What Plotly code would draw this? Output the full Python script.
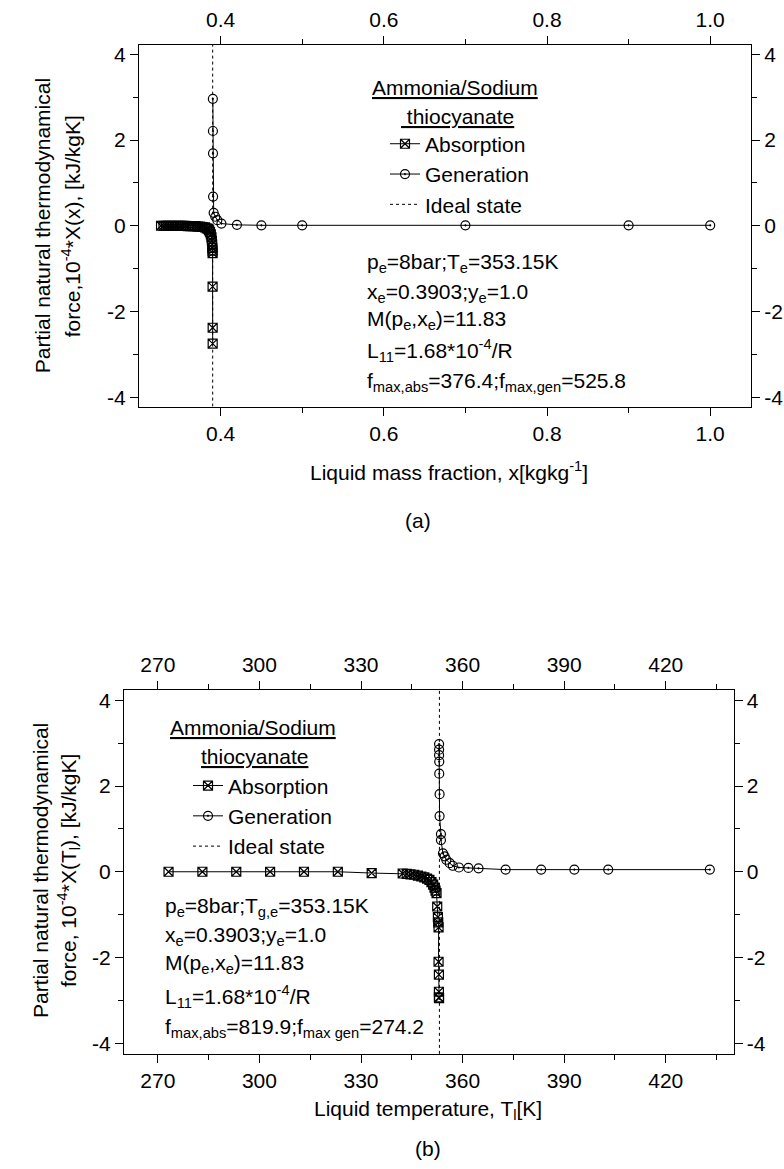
import plotly.graph_objects as go

# ---------------- data: panel (a) ----------------
abs_a_x = [0.327, 0.330, 0.333, 0.336, 0.339, 0.342, 0.345, 0.348, 0.351, 0.354,
           0.357, 0.360, 0.363, 0.366, 0.369, 0.372, 0.375, 0.378, 0.381, 0.383,
           0.385, 0.386, 0.387, 0.388, 0.3888, 0.3893, 0.3897, 0.3899, 0.3901, 0.3902,
           0.3902, 0.3903, 0.3903]
abs_a_y = [0.0, 0.0, 0.0, 0.0, 0.0, 0.0, 0.0, 0.0, 0.0, 0.0,
           0.0, -0.01, -0.01, -0.01, -0.01, -0.02, -0.02, -0.03, -0.04, -0.06,
           -0.08, -0.11, -0.15, -0.20, -0.27, -0.35, -0.44, -0.52, -0.58, -0.64,
           -1.42, -2.38, -2.75]
gen_a_x = [0.3905, 0.3906, 0.3907, 0.3908, 0.3915, 0.3935, 0.3960, 0.4010, 0.420,
           0.450, 0.500, 0.700, 0.900, 1.000]
gen_a_y = [2.96, 2.21, 1.69, 0.68, 0.30, 0.21, 0.13, 0.05, 0.02,
           0.01, 0.01, 0.01, 0.01, 0.01]
ideal_a_x = 0.3903

# ---------------- data: panel (b) ----------------
abs_b_t = [273.15, 283.15, 293.15, 303.15, 313.15, 323.15, 333.15, 342.3, 343.5, 344.6,
           345.7, 346.8, 347.8, 348.7, 349.5, 350.2, 350.8, 351.3, 351.7, 352.0,
           352.3, 352.5, 352.7, 352.8, 352.9, 352.9, 353.0, 353.0, 353.0, 353.05]
abs_b_y = [0.0, 0.0, 0.0, 0.0, 0.0, 0.0, -0.03, -0.04, -0.05, -0.06,
           -0.07, -0.09, -0.11, -0.13, -0.16, -0.19, -0.24, -0.30, -0.37, -0.44,
           -0.50, -0.81, -1.06, -1.18, -1.30, -2.10, -2.40, -2.80, -2.93, -2.95]
gen_b_t = [353.05, 353.05, 353.05, 353.1, 353.1, 353.2, 353.2, 353.6, 353.6, 354.2,
           354.7, 355.2, 356.2, 357.1, 358.9, 361.7, 364.7, 372.7, 383.2, 393.0,
           403.0, 433.0]
gen_b_y = [2.98, 2.85, 2.72, 2.57, 2.29, 1.81, 1.30, 0.88, 0.74, 0.43,
           0.36, 0.28, 0.20, 0.14, 0.10, 0.09, 0.08, 0.05, 0.05, 0.05,
           0.05, 0.05]
ideal_b_t = 353.15

# ---------------- ticks ----------------
x_a_tickvals = [0.4, 0.6, 0.8, 1.0]
x_a_ticktext = ["0.4", "0.6", "0.8", "1.0"]
x_a_minor = [0.5, 0.7, 0.9]
x_b_tickvals = [270, 300, 330, 360, 390, 420]
x_b_ticktext = ["270", "300", "330", "360", "390", "420"]
x_b_minor = [285, 315, 345, 375, 405, 435]
y_tickvals = [-4, -2, 0, 2, 4]
y_ticktext = ["-4", "-2", "0", "2", "4"]
y_minor = [-3, -1, 1, 3]

X_A_RANGE = [0.3, 1.05]
Y_A_RANGE = [-4.22, 4.22]
X_B_RANGE = [260, 440]
Y_B_RANGE = [-4.25, 4.25]

W, H = 784, 1169
FONT = "Liberation Sans, Arial, sans-serif"
FS = 21


def px(v):
    return v / W


def py(v):
    return 1 - v / H


LINE = dict(color="black", width=1)
ABS_MARKER = dict(symbol="square-x-open", size=9, color="black", line=dict(width=1.2, color="black"))
GEN_MARKER = dict(symbol="circle-open-dot", size=9, color="black", line=dict(width=1.2, color="black"))

fig = go.Figure()

# panel (a)
fig.add_trace(go.Scatter(x=abs_a_x, y=abs_a_y, mode="lines+markers", name="Absorption",
                         line=LINE, marker=ABS_MARKER, xaxis="x", yaxis="y", legend="legend"))
fig.add_trace(go.Scatter(x=gen_a_x, y=gen_a_y, mode="lines+markers", name="Generation",
                         line=LINE, marker=GEN_MARKER, xaxis="x", yaxis="y", legend="legend"))
fig.add_trace(go.Scatter(x=[ideal_a_x, ideal_a_x], y=Y_A_RANGE, mode="lines", name="Ideal state",
                         line=dict(color="black", width=1, dash="dot"), xaxis="x", yaxis="y",
                         legend="legend"))
fig.add_trace(go.Scatter(x=[None], y=[None], mode="markers", showlegend=False, hoverinfo="skip",
                         xaxis="x2", yaxis="y2"))

# panel (b)
fig.add_trace(go.Scatter(x=abs_b_t, y=abs_b_y, mode="lines+markers", name="Absorption",
                         line=LINE, marker=ABS_MARKER, xaxis="x3", yaxis="y3", legend="legend2"))
fig.add_trace(go.Scatter(x=gen_b_t, y=gen_b_y, mode="lines+markers", name="Generation",
                         line=LINE, marker=GEN_MARKER, xaxis="x3", yaxis="y3", legend="legend2"))
fig.add_trace(go.Scatter(x=[ideal_b_t, ideal_b_t], y=Y_B_RANGE, mode="lines", name="Ideal state",
                         line=dict(color="black", width=1, dash="dot"), xaxis="x3", yaxis="y3",
                         legend="legend2"))
fig.add_trace(go.Scatter(x=[None], y=[None], mode="markers", showlegend=False, hoverinfo="skip",
                         xaxis="x4", yaxis="y4"))


def ax(tickvals, ticktext, minor_vals, rng, **kw):
    d = dict(range=rng, tickmode="array", tickvals=tickvals, ticktext=ticktext,
             showline=True, linecolor="black", linewidth=1, mirror=False,
             ticks="outside", ticklen=8, tickwidth=1, tickcolor="black",
             showgrid=False, zeroline=False, fixedrange=True,
             tickfont=dict(size=FS, family=FONT, color="black"),
             minor=dict(tickmode="array", tickvals=minor_vals, ticks="outside", ticklen=5,
                        tickwidth=1, tickcolor="black", showgrid=False))
    d.update(kw)
    return d


layout = dict(
    width=W, height=H, autosize=False,
    margin=dict(l=0, r=0, t=0, b=0),
    paper_bgcolor="white", plot_bgcolor="white",
    font=dict(family=FONT, size=FS, color="black"),
    xaxis=ax(x_a_tickvals, x_a_ticktext, x_a_minor, X_A_RANGE,
             domain=[px(139), px(751)], anchor="y", side="bottom"),
    xaxis2=ax(x_a_tickvals, x_a_ticktext, x_a_minor, X_A_RANGE,
              overlaying="x", anchor="y", side="top"),
    yaxis=ax(y_tickvals, y_ticktext, y_minor, Y_A_RANGE,
             domain=[py(406), py(43)], anchor="x", side="left"),
    yaxis2=ax(y_tickvals, y_ticktext, y_minor, Y_A_RANGE,
              overlaying="y", anchor="x", side="right"),
    xaxis3=ax(x_b_tickvals, x_b_ticktext, x_b_minor, X_B_RANGE,
              domain=[px(124), px(733.5)], anchor="y3", side="bottom"),
    xaxis4=ax(x_b_tickvals, x_b_ticktext, x_b_minor, X_B_RANGE,
              overlaying="x3", anchor="y3", side="top"),
    yaxis3=ax(y_tickvals, y_ticktext, y_minor, Y_B_RANGE,
              domain=[py(1055.5), py(690)], anchor="x3", side="left"),
    yaxis4=ax(y_tickvals, y_ticktext, y_minor, Y_B_RANGE,
              overlaying="y3", anchor="x3", side="right"),
    legend=dict(x=px(385), y=py(122), xanchor="left", yanchor="top",
                bgcolor="rgba(0,0,0,0)", borderwidth=0, tracegroupgap=0,
                font=dict(size=FS, family=FONT, color="black")),
    legend2=dict(x=px(188), y=py(766), xanchor="left", yanchor="top",
                 bgcolor="rgba(0,0,0,0)", borderwidth=0, tracegroupgap=0,
                 font=dict(size=FS, family=FONT, color="black")),
    showlegend=True,
)
fig.update_layout(**layout)


def note(text, x, y, xanchor="center", angle=0, size=FS):
    fig.add_annotation(text=text, x=px(x), y=py(y), xref="paper", yref="paper",
                       xanchor=xanchor, yanchor="middle", showarrow=False, textangle=angle,
                       font=dict(size=size, family=FONT, color="black"))


# legend titles
note("<u>Ammonia/Sodium</u>", 455, 86)
note("<u> thiocyanate</u>", 458, 115)
note("<u>Ammonia/Sodium</u>", 253, 728)
note("<u>thiocyanate</u>", 254, 757)

# parameter blocks
params_a = ["p<sub>e</sub>=8bar;T<sub>e</sub>=353.15K",
            "x<sub>e</sub>=0.3903;y<sub>e</sub>=1.0",
            "M(p<sub>e</sub>,x<sub>e</sub>)=11.83",
            "L<sub>11</sub>=1.68*10<sup>-4</sup>/R",
            "f<sub>max,abs</sub>=376.4;f<sub>max,gen</sub>=525.8"]
params_b = ["p<sub>e</sub>=8bar;T<sub>g,e</sub>=353.15K",
            "x<sub>e</sub>=0.3903;y<sub>e</sub>=1.0",
            "M(p<sub>e</sub>,x<sub>e</sub>)=11.83",
            "L<sub>11</sub>=1.68*10<sup>-4</sup>/R",
            "f<sub>max,abs</sub>=819.9;f<sub>max gen</sub>=274.2"]
for t, yy in zip(params_a, [262, 292, 319, 350, 381]):
    note(t, 365, yy, xanchor="left")
for t, yy in zip(params_b, [908, 937, 965, 998, 1030]):
    note(t, 163, yy, xanchor="left")

# axis titles
note("Partial natural thermodynamical", 42, 225, angle=-90)
note("force,10<sup>-4</sup>*X(x), [kJ/kgK]", 71, 225, angle=-90)
note("Liquid mass fraction, x[kgkg<sup>-1</sup>]", 449, 471)
note("(a)", 418, 520)

note("Partial natural thermodynamical", 40, 872, angle=-90)
note("force, 10<sup>-4</sup>*X(T<sub>l</sub>), [kJ/kgK]", 68, 872, angle=-90)
note("Liquid temperature, T<sub>l</sub>[K]", 428, 1112)
note("(b)", 428, 1150)

fig.write_html("out.html")
